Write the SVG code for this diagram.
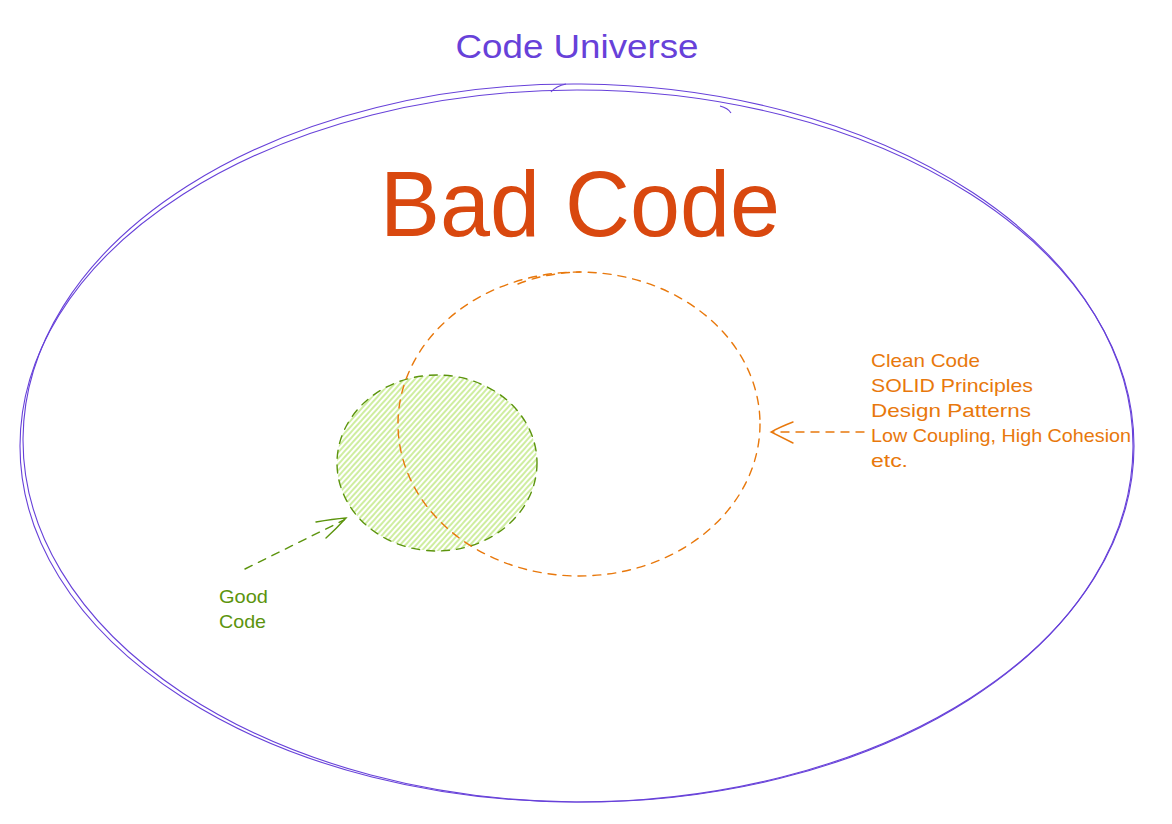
<svg xmlns="http://www.w3.org/2000/svg" width="1172" height="824" viewBox="0 0 1172 824">
<defs>
<style>
.purple{fill:none;stroke:#6741d9;stroke-width:1.1}
.orange{fill:none;stroke:#e8780c;stroke-width:1.4;stroke-dasharray:8 7;stroke-linecap:round}
.orangeSolid{fill:none;stroke:#e8780c;stroke-width:1.4;stroke-linecap:round}
.green{stroke:#5c940d;stroke-width:1.4;stroke-dasharray:8 7;stroke-linecap:round}
.greenSolid{fill:none;stroke:#5c940d;stroke-width:1.4;stroke-linecap:round}
.lbl{font-family:"Liberation Sans",Arial,sans-serif;font-size:19px}
</style>
<pattern id="hatch" patternUnits="userSpaceOnUse" width="4" height="4" patternTransform="rotate(-48)">
<line x1="0" y1="2" x2="4" y2="2" stroke="#94d82d" stroke-width="0.9"/>
</pattern>
</defs>
<rect width="1172" height="824" fill="#ffffff"/>
<g id="universe">
<ellipse class="purple" cx="577" cy="446" rx="557" ry="356"/>
<ellipse class="purple" cx="578" cy="443" rx="555" ry="359" transform="rotate(0.5 578 443)"/>
<path class="purple" d="M551 92 Q556 86 566 84"/>
<path class="purple" d="M720 106 Q728 108 731 113"/>
<text x="577" y="58" text-anchor="middle" font-family="Liberation Sans,Arial,sans-serif" font-size="34" fill="#6741d9" textLength="243" lengthAdjust="spacingAndGlyphs">Code Universe</text>
</g>
<g id="bad-code">
<text x="380" y="236" font-family="Liberation Sans,Arial,sans-serif" font-size="92" fill="#d9480f" textLength="400" lengthAdjust="spacingAndGlyphs">Bad Code</text>
</g>
<g id="good-code">
<ellipse cx="437" cy="463" rx="100" ry="88" fill="url(#hatch)" class="green"/>
<text class="lbl" fill="#5c940d"><tspan x="219" y="603" textLength="49" lengthAdjust="spacingAndGlyphs">Good</tspan><tspan x="219" y="628" textLength="47" lengthAdjust="spacingAndGlyphs">Code</tspan></text>
</g>
<g id="principles">
<ellipse class="orange" cx="579" cy="424" rx="181" ry="152"/>
<path class="orange" d="M518 284 Q545 273 580 272"/>
<text class="lbl" fill="#e8780c">
<tspan x="871" y="367" textLength="109" lengthAdjust="spacingAndGlyphs">Clean Code</tspan>
<tspan x="871" y="392" textLength="162" lengthAdjust="spacingAndGlyphs">SOLID Principles</tspan>
<tspan x="871" y="417" textLength="160" lengthAdjust="spacingAndGlyphs">Design Patterns</tspan>
<tspan x="871" y="442" textLength="260" lengthAdjust="spacingAndGlyphs">Low Coupling, High Cohesion</tspan>
<tspan x="871" y="467" textLength="37" lengthAdjust="spacingAndGlyphs">etc.</tspan>
</text>
</g>
<g id="connectors">
<path class="orange" d="M864 432 L772 432"/>
<path class="orangeSolid" d="M793 422 Q780 427 771 432 Q781 437 793 443"/>
<path class="green" d="M245 569 L344 520" fill="none"/>
<path class="greenSolid" d="M316 522 Q333 519 346 518 Q336 529 326 538"/>
</g>
</svg>
